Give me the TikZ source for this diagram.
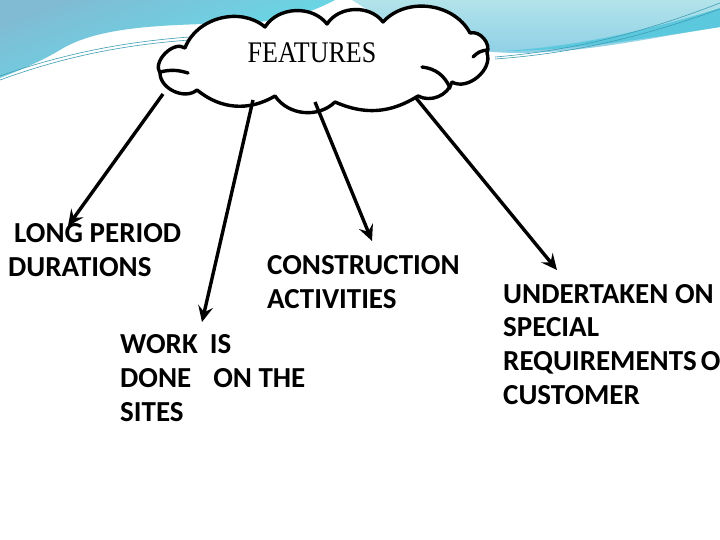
\documentclass[tikz,border=0pt]{standalone}
\usepackage{fontspec}
\setmainfont{Carlito}
\newfontfamily\ftimes{Liberation Serif}
\usetikzlibrary{arrows.meta}
\definecolor{bgblue}{HTML}{80BBD3}
\definecolor{bgcyan}{HTML}{5EE3EE}
\definecolor{lcyanA}{HTML}{B2E3EA}
\definecolor{lcyanB}{HTML}{8FD0E6}
\definecolor{stripe}{HTML}{5CC8DE}
\definecolor{thin}{HTML}{3E9DB3}
\tikzset{
  cloudline/.style={draw=black, line width=3.4pt, fill=white, line join=round},
  innerarc/.style={draw=black, line width=3.4pt, line cap=round},
  arr/.style={draw=black, line width=3.4pt, -{Stealth[length=16pt,width=15pt,inset=6pt]}},
  lbl/.style={font=\bfseries\fontsize{29}{33.6}\selectfont, align=left, inner sep=0pt, anchor=base west, text=black},
  thinline/.style={draw=thin, line width=0.6pt}
}
\begin{document}
\begin{tikzpicture}[x=1pt,y=-1pt]
\useasboundingbox (0,0) rectangle (720,540);
\clip (0,0) rectangle (720,540);
\fill[white] (0,0) rectangle (720,540);
% background swooshes
\shade[top color=bgblue, bottom color=bgcyan, shading angle=20]
  (0,0) -- (335,0) .. controls (305,16) and (275,22) .. (240,23)
  .. controls (170,25) and (100,25) .. (60,50)
  .. controls (40,62) and (20,70) .. (0,78) -- cycle;
\shade[top color=lcyanA, bottom color=lcyanB]
  (352,0) -- (720,0) -- (720,27) .. controls (650,38) and (590,52) .. (520,53)
  .. controls (460,53) and (410,38) .. (352,0) -- cycle;
\fill[stripe]
  (720,8) .. controls (650,30) and (580,46) .. (505,51)
  .. controls (570,51) and (650,38) .. (720,27) -- cycle;
\draw[thinline] (0,76) .. controls (60,55) and (120,42) .. (190,37);
\draw[thinline] (0,80) .. controls (60,58) and (120,45) .. (190,40);
\draw[thinline] (495,57) .. controls (580,50) and (650,30) .. (720,3);
\draw[thinline] (495,59) .. controls (580,53) and (650,34) .. (720,9);
% cloud
\draw[cloudline] (185,48) to[bend left=55] (265,27) to[bend left=55] (327,24)
  to[bend left=55] (383,22) to[bend left=55] (470,33) to[bend left=65] (487,53)
  to[bend left=70] (452,82) to[bend left=50] (418,96) to[bend left=28] (335,102)
  to[bend left=50] (275,96) to[bend left=35] (197,90) to[bend left=65] (160,73)
  to[bend left=80] (185,48) -- cycle;
\draw[innerarc] (160,72) to[bend left=15] (188,73);
\draw[innerarc] (473,57) to[bend left=20] (487,50);
\draw[innerarc] (422,67) to[bend left=30] (450,88);
\node[font=\ftimes\fontsize{26}{30}\selectfont, inner sep=0pt] (feat) at (312,53) {\scalebox{1}[1.15]{FEATURES}};
% end coordinates
\coordinate (s1) at (163,94);
\coordinate (s2) at (253,100);
\coordinate (s3) at (315,102);
\coordinate (s4) at (416,98);
\coordinate (e1) at (68,226);
\coordinate (e2) at (202,322);
\coordinate (e3) at (372,241);
\coordinate (e4) at (557,270);
% texts (anchor = baseline of the last line)
\node[lbl] (lp) at (8,276) {\hspace*{6pt}LONG PERIOD\\DURATIONS};
\node[lbl] (ca) at (267,308) {CONSTRUCTION\\ACTIVITIES};
\node[lbl] (wd) at (120,421) {WORK\hspace{12pt}IS\\DONE\hspace{22pt}ON THE\\SITES};
\node[lbl] (us) at (503,404) {UNDERTAKEN ON\\SPECIAL\\REQUIREMENTS\hspace{4pt}OF\\CUSTOMER};
% arrows
\draw[arr] (s1) -- (e1);
\draw[arr] (s2) -- (e2);
\draw[arr] (s3) -- (e3);
\draw[arr] (s4) -- (e4);
\end{tikzpicture}
\end{document}
